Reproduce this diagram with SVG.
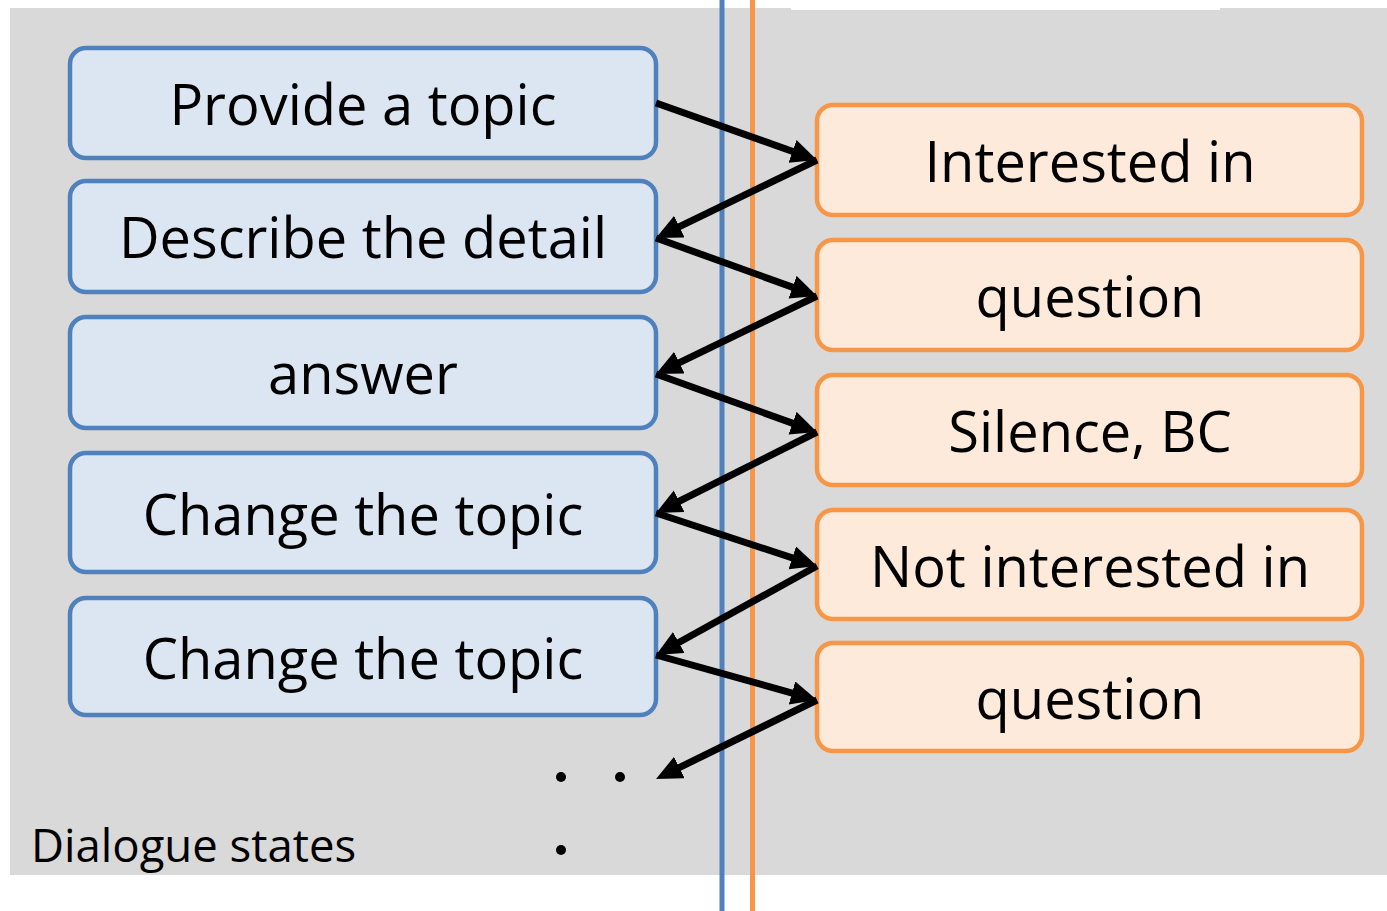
<svg xmlns="http://www.w3.org/2000/svg" width="1387" height="911" viewBox="0 0 1387 911">
<style>
.bg{fill:#D9D9D9}
.bn rect{fill:#DCE6F2;stroke:#4F81BD;stroke-width:4.5}
.on rect{fill:#FDEADA;stroke:#F79646;stroke-width:4.5}
text{font-family:"Open Sans","Noto Sans","DejaVu Sans",sans-serif;fill:#000}
.lbl{font-size:56px;text-anchor:middle}
.conn line{stroke:#000;stroke-width:7;marker-end:url(#ah)}
</style>
<defs>
<marker id="ah" markerUnits="userSpaceOnUse" markerWidth="30" markerHeight="28" refX="16" refY="12" orient="auto" viewBox="0 0 30 28">
<path d="M0,0 L26,12 L0,24 Z" fill="#000"/>
</marker>
</defs>
<rect class="bg" x="10" y="8" width="781" height="867"/>
<rect class="bg" x="790" y="10" width="431" height="865"/>
<rect class="bg" x="1220" y="8" width="167" height="867"/>
<line x1="722" y1="0" x2="722" y2="911" stroke="#4F81BD" stroke-width="5"/>
<line x1="752.5" y1="0" x2="752.5" y2="911" stroke="#F79646" stroke-width="5"/>
<g id="n1" class="bn"><rect x="70" y="48" width="586" height="110" rx="16"/><text class="lbl" x="363" y="125">Provide a topic</text></g>
<g id="n2" class="bn"><rect x="70" y="181" width="586" height="111" rx="16"/><text class="lbl" x="363" y="258">Describe the detail</text></g>
<g id="n3" class="bn"><rect x="70" y="317" width="586" height="111" rx="16"/><text class="lbl" x="363" y="394">answer</text></g>
<g id="n4" class="bn"><rect x="70" y="453" width="586" height="119" rx="16"/><text class="lbl" x="363" y="535">Change the topic</text></g>
<g id="n5" class="bn"><rect x="70" y="598" width="586" height="117" rx="16"/><text class="lbl" x="363" y="679">Change the topic</text></g>
<g id="o1" class="on"><rect x="817" y="105" width="545" height="110" rx="16"/><text class="lbl" x="1090" y="182">Interested in</text></g>
<g id="o2" class="on"><rect x="817" y="240" width="545" height="110" rx="16"/><text class="lbl" x="1090" y="317">question</text></g>
<g id="o3" class="on"><rect x="817" y="375" width="545" height="110" rx="16"/><text class="lbl" x="1090" y="452">Silence, BC</text></g>
<g id="o4" class="on"><rect x="817" y="510" width="545" height="109" rx="16"/><text class="lbl" x="1090" y="587">Not interested in</text></g>
<g id="o5" class="on"><rect x="817" y="643" width="545" height="108" rx="16"/><text class="lbl" x="1090" y="719">question</text></g>
<g id="connectors" class="conn">
<line x1="656" y1="103" x2="807.6" y2="156.7"/>
<line x1="817" y1="160" x2="665" y2="233.6"/>
<line x1="656" y1="238" x2="807.6" y2="292.6"/>
<line x1="817" y1="296" x2="665" y2="369.6"/>
<line x1="656" y1="374" x2="807.6" y2="428.6"/>
<line x1="817" y1="432" x2="664.9" y2="508.5"/>
<line x1="656" y1="513" x2="807.5" y2="562.9"/>
<line x1="817" y1="566" x2="664.8" y2="650.2"/>
<line x1="656" y1="655" x2="807.4" y2="697.3"/>
<line x1="817" y1="700" x2="665" y2="774.6"/>
</g>
<g id="dots">
<circle cx="561" cy="777" r="5"/>
<circle cx="620" cy="777" r="5"/>
<circle cx="561" cy="850" r="5"/>
</g>
<text id="label" x="31" y="862" font-size="45.5">Dialogue states</text>
</svg>
